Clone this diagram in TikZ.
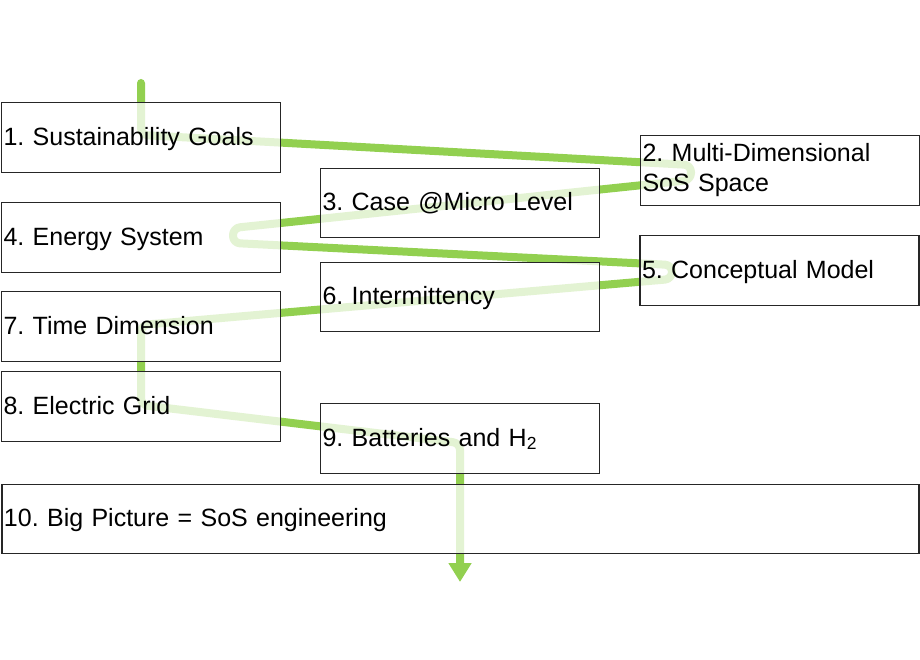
\documentclass[tikz,border=0pt]{standalone}
\usepackage{fontspec}
\setmainfont{Liberation Sans}
\usetikzlibrary{arrows.meta}
\pgfdeclarelayer{background}
\pgfsetlayers{background,main}
\definecolor{flowgreen}{HTML}{92D050}
\definecolor{boxline}{HTML}{262626}
\frenchspacing
\newcommand\bxs{\rule[-5.5pt]{0pt}{26.5pt}}
\tikzset{
  stepbox/.style={draw=boxline, line width=1.3pt, fill=white, fill opacity=0.75,
    text opacity=1, draw opacity=1, minimum width=279pt, minimum height=69.5pt,
    text width=275pt, align=left, inner xsep=2pt, inner ysep=0pt,
    font=\fontsize{25}{30}\selectfont\frenchspacing},
  flow/.style={draw=flowgreen, line width=8pt, line cap=round, line join=round,
    rounded corners=7pt}
}
\begin{document}
\begin{tikzpicture}[x=1pt,y=-1pt]
\useasboundingbox (0,0) rectangle (920,660);
\node[stepbox] (b1) at (141,137.5) {\bxs 1. Sustainability Goals};
\node[stepbox] (b2) at (780,170.5) {2. Multi-Dimensional\\SoS Space};
\node[stepbox] (b3) at (460,203) {\bxs 3. Case @Micro Level};
\node[stepbox] (b4) at (141,237.5) {\bxs 4. Energy System};
\node[stepbox] (b5) at (779.5,270.5) {\bxs 5. Conceptual Model};
\node[stepbox] (b6) at (460,297) {\bxs 6. Intermittency};
\node[stepbox] (b7) at (141,326.5) {\bxs 7. Time Dimension};
\node[stepbox] (b8) at (141,406.5) {\bxs 8. Electric Grid};
\node[stepbox] (b9) at (460,438.5) {\bxs 9. Batteries and H\textsubscript{2}};
\node[stepbox, minimum width=917pt, text width=913pt] (b10) at (460.5,519) {\bxs 10. Big Picture = SoS engineering};
\coordinate (p0) at (141,83);
\coordinate (p1) at (141,135);
\coordinate (p2) at (691,165);
\coordinate (p3) at (691,180);
\coordinate (p4) at (233,228);
\coordinate (p5) at (233,243);
\coordinate (p6) at (672,265);
\coordinate (p7) at (672,279);
\coordinate (p8) at (141,325);
\coordinate (p9) at (141,405);
\coordinate (p10) at (460,443);
\coordinate (p11) at (460,582);
\begin{pgfonlayer}{background}
\draw[flow, -{Triangle[width=22pt,length=19pt]}]
  (p0) -- (p1) -- (p2) -- (p3) -- (p4) -- (p5) -- (p6) -- (p7) -- (p8) -- (p9) -- (p10) -- (p11);
\end{pgfonlayer}
\end{tikzpicture}
\end{document}
